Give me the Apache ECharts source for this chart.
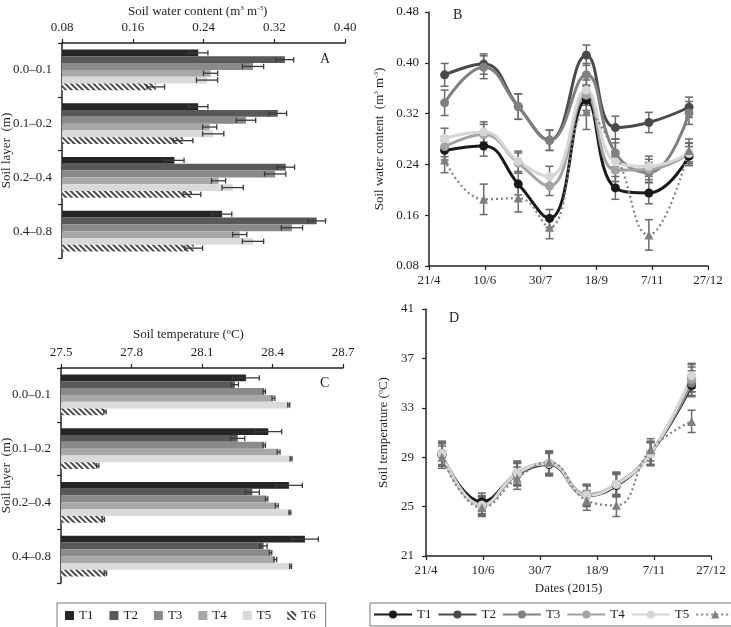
<!DOCTYPE html>
<html>
<head>
<meta charset="utf-8">
<script src="https://cdn.jsdelivr.net/npm/echarts@6/dist/echarts.min.js"></script>
<style>html,body{margin:0;padding:0;background:#fff}#c{width:731px;height:627px}</style>
</head>
<body>
<div id="c"></div>
<script>
// ---------- data ----------
const layers = ['0.0–0.1', '0.1–0.2', '0.2–0.4', '0.4–0.8'];
const treatments = ['T1', 'T2', 'T3', 'T4', 'T5', 'T6'];

// Panel A: soil water content by layer (m3 m-3)
const swcLayerT1 = [0.234, 0.234, 0.207, 0.261];
const swcLayerT2 = [0.332, 0.324, 0.333, 0.368];
const swcLayerT3 = [0.296, 0.288, 0.321, 0.340];
const swcLayerT4 = [0.248, 0.247, 0.257, 0.281];
const swcLayerT5 = [0.244, 0.251, 0.273, 0.296];
const swcLayerT6 = [0.186, 0.217, 0.227, 0.229];
const swcLayerErrT1 = [0.011, 0.011, 0.011, 0.011];
const swcLayerErrT2 = [0.010, 0.010, 0.010, 0.010];
const swcLayerErrT3 = [0.012, 0.011, 0.012, 0.012];
const swcLayerErrT4 = [0.008, 0.008, 0.008, 0.008];
const swcLayerErrT5 = [0.012, 0.012, 0.012, 0.012];
const swcLayerErrT6 = [0.010, 0.011, 0.010, 0.010];

// Panel C: soil temperature by layer (°C)
const stLayerT1 = [28.287, 28.382, 28.470, 28.538];
const stLayerT2 = [28.240, 28.252, 28.314, 28.362];
const stLayerT3 = [28.365, 28.365, 28.375, 28.392];
const stLayerT4 = [28.404, 28.426, 28.418, 28.412];
const stLayerT5 = [28.469, 28.479, 28.474, 28.477];
const stLayerT6 = [27.687, 27.656, 27.680, 27.689];
const stLayerErrT1 = [0.057, 0.057, 0.057, 0.057];
const stLayerErrT2 = [0.015, 0.030, 0.030, 0.015];
const stLayerErrT3 = [0.005, 0.005, 0.005, 0.005];
const stLayerErrT4 = [0.006, 0.006, 0.006, 0.006];
const stLayerErrT5 = [0.004, 0.004, 0.004, 0.004];
const stLayerErrT6 = [0.005, 0.005, 0.005, 0.005];

// Panels B and D: sampling dates
const sampleDates = ['2015-05-05', '2015-06-09', '2015-07-10', '2015-08-07', '2015-09-09', '2015-10-05', '2015-11-04', '2015-12-10'];
const dateTickLabels = ['21/4', '10/6', '30/7', '18/9', '7/11', '27/12'];

// Panel B: soil water content over time
const swcT1 = [0.262, 0.269, 0.209, 0.155, 0.341, 0.203, 0.195, 0.253];
const swcT2 = [0.381, 0.398, 0.331, 0.278, 0.412, 0.298, 0.306, 0.330];
const swcT3 = [0.337, 0.393, 0.331, 0.278, 0.381, 0.258, 0.227, 0.321];
const swcT4 = [0.268, 0.287, 0.242, 0.206, 0.349, 0.231, 0.232, 0.257];
const swcT5 = [0.281, 0.291, 0.245, 0.221, 0.357, 0.244, 0.237, 0.258];
const swcT6 = [0.247, 0.185, 0.187, 0.141, 0.323, 0.258, 0.129, 0.262];
const swcErrT1 = [0.015, 0.016, 0.017, 0.014, 0.016, 0.018, 0.017, 0.015];
const swcErrT2 = [0.018, 0.016, 0.020, 0.016, 0.016, 0.018, 0.016, 0.016];
const swcErrT3 = [0.020, 0.018, 0.020, 0.016, 0.018, 0.016, 0.016, 0.018];
const swcErrT4 = [0.016, 0.016, 0.016, 0.015, 0.016, 0.018, 0.016, 0.016];
const swcErrT5 = [0.016, 0.016, 0.016, 0.016, 0.016, 0.016, 0.016, 0.016];
const swcErrT6 = [0.020, 0.024, 0.022, 0.018, 0.028, 0.022, 0.024, 0.018];

// Panel D: soil temperature over time
const stT1 = [29.2, 25.4, 27.6, 28.4, 25.9, 26.7, 29.3, 34.8];
const stT2 = [29.3, 25.1, 27.7, 28.5, 25.9, 26.8, 29.3, 35.4];
const stT3 = [29.2, 25.1, 27.6, 28.5, 25.9, 26.8, 29.3, 35.0];
const stT4 = [29.3, 25.1, 27.7, 28.5, 26.0, 26.8, 29.3, 35.3];
const stT5 = [29.3, 25.1, 27.7, 28.5, 25.9, 26.8, 29.3, 35.6];
const stT6 = [29.0, 24.9, 27.3, 28.6, 25.5, 25.1, 29.6, 31.9];
const stErrT1 = [0.9, 0.7, 0.9, 0.9, 0.8, 0.9, 0.9, 0.9];
const stErrT2 = [1.0, 0.8, 1.0, 1.0, 0.9, 1.0, 1.0, 1.1];
const stErrT3 = [0.9, 0.7, 0.9, 0.9, 0.8, 0.9, 0.9, 1.0];
const stErrT4 = [0.9, 0.7, 0.9, 0.9, 0.8, 0.9, 0.9, 1.0];
const stErrT5 = [0.9, 0.7, 0.9, 0.9, 0.8, 0.9, 0.9, 1.0];
const stErrT6 = [0.9, 0.7, 0.9, 0.9, 0.8, 0.9, 0.9, 0.9];

// ---------- styling ----------
const FONT = 'Liberation Serif';
const TXT = '#231f20';
const barColors = ['#262626', '#595959', '#8a8a8a', '#a8a8a8', '#dadada', '#ffffff'];
const lineColors = ['#1a1a1a', '#4a4a4a', '#808080', '#a3a3a3', '#d6d6d6', '#808080'];
const BAR_CAT_GAP = 0.24;
const BAR_DIR = 1;

const swcLayer = [swcLayerT1, swcLayerT2, swcLayerT3, swcLayerT4, swcLayerT5, swcLayerT6];
const swcLayerErr = [swcLayerErrT1, swcLayerErrT2, swcLayerErrT3, swcLayerErrT4, swcLayerErrT5, swcLayerErrT6];
const stLayer = [stLayerT1, stLayerT2, stLayerT3, stLayerT4, stLayerT5, stLayerT6];
const stLayerErr = [stLayerErrT1, stLayerErrT2, stLayerErrT3, stLayerErrT4, stLayerErrT5, stLayerErrT6];
const swcTime = [swcT1, swcT2, swcT3, swcT4, swcT5, swcT6];
const swcTimeErr = [swcErrT1, swcErrT2, swcErrT3, swcErrT4, swcErrT5, swcErrT6];
const stTime = [stT1, stT2, stT3, stT4, stT5, stT6];
const stTimeErr = [stErrT1, stErrT2, stErrT3, stErrT4, stErrT5, stErrT6];

function dayOffset(s) {
  return Math.round((new Date(s + 'T00:00:00Z') - new Date('2015-04-21T00:00:00Z')) / 864e5);
}
const sampleDays = sampleDates.map(dayOffset);

const baseLabel = { color: TXT, fontFamily: FONT, fontSize: 13 };
const supRich = { s: { color: TXT, fontFamily: FONT, fontSize: 7, verticalAlign: 'top', lineHeight: 13 } };
const axLine = { show: true, lineStyle: { color: '#222', width: 1.5 } };
const axTick = { show: true, length: 4, lineStyle: { color: '#222', width: 1.2 } };

function hatch() {
  return { color: '#ffffff', decal: { symbol: 'rect', symbolSize: 1, color: '#4a4a4a', dashArrayX: [1, 0], dashArrayY: [1.2, 1.3], rotation: Math.PI / 4 } };
}

function barSeries(axisIdx, values, idx) {
  const style = idx === 5 ? hatch() : { color: barColors[idx] };
  return {
    type: 'bar', name: treatments[idx], xAxisIndex: axisIdx, yAxisIndex: axisIdx,
    data: values, barCategoryGap: (BAR_CAT_GAP * 100) + '%', barGap: '0%',
    itemStyle: style, z: 2
  };
}

function hErrSeries(axisIdx, values, errs, idx) {
  return {
    type: 'custom', name: 'err' + axisIdx + treatments[idx], xAxisIndex: axisIdx, yAxisIndex: axisIdx,
    data: values.map((v, k) => [v, k, errs[k]]), z: 5, silent: true,
    renderItem: function (params, api) {
      const v = api.value(0), c = api.value(1), e = api.value(2);
      const band = api.size([0, 1])[1];
      const groupH = band * (1 - BAR_CAT_GAP);
      const barH = groupH / 6;
      const y = api.coord([v, c])[1] + BAR_DIR * (-groupH / 2 + barH * (idx + 0.5));
      const xl = api.coord([v - e, c])[0], xr = api.coord([v + e, c])[0];
      const h = barH * 0.4;
      const st = { stroke: '#3a3a3a', lineWidth: 1.3 };
      return { type: 'group', children: [
        { type: 'line', shape: { x1: xl, y1: y, x2: xr, y2: y }, style: st },
        { type: 'line', shape: { x1: xl, y1: y - h, x2: xl, y2: y + h }, style: st },
        { type: 'line', shape: { x1: xr, y1: y - h, x2: xr, y2: y + h }, style: st }
      ] };
    }
  };
}

function lineSeries(axisIdx, values, idx) {
  const dotted = idx === 5;
  return {
    type: 'line', name: treatments[idx] + ' ', xAxisIndex: axisIdx, yAxisIndex: axisIdx,
    data: sampleDays.map((d, k) => [d, values[k]]),
    smooth: 0.45,
    symbol: dotted ? 'triangle' : 'circle', symbolSize: 9,
    lineStyle: { color: lineColors[idx], width: dotted ? 2.2 : 3, type: dotted ? [2, 3] : 'solid' },
    itemStyle: { color: lineColors[idx] },
    z: 3
  };
}

function vErrSeries(axisIdx, values, errs, idx) {
  return {
    type: 'custom', name: 'verr' + axisIdx + treatments[idx], xAxisIndex: axisIdx, yAxisIndex: axisIdx,
    data: sampleDays.map((d, k) => [d, values[k], errs[k]]), z: 2, silent: true,
    renderItem: function (params, api) {
      const x = api.value(0), v = api.value(1), e = api.value(2);
      const a = api.coord([x, v + e]), b = api.coord([x, v - e]);
      const w = 4;
      const st = { stroke: '#6a6a6a', lineWidth: 1.5 };
      return { type: 'group', children: [
        { type: 'line', shape: { x1: a[0], y1: a[1], x2: b[0], y2: b[1] }, style: st },
        { type: 'line', shape: { x1: a[0] - w, y1: a[1], x2: a[0] + w, y2: a[1] }, style: st },
        { type: 'line', shape: { x1: b[0] - w, y1: b[1], x2: b[0] + w, y2: b[1] }, style: st }
      ] };
    }
  };
}

const series = [];
treatments.forEach((t, i) => series.push(barSeries(0, swcLayer[i], i)));
treatments.forEach((t, i) => series.push(barSeries(1, stLayer[i], i)));
treatments.forEach((t, i) => series.push(hErrSeries(0, swcLayer[i], swcLayerErr[i], i)));
treatments.forEach((t, i) => series.push(hErrSeries(1, stLayer[i], stLayerErr[i], i)));
treatments.forEach((t, i) => series.push(vErrSeries(2, swcTime[i], swcTimeErr[i], i)));
treatments.forEach((t, i) => series.push(vErrSeries(3, stTime[i], stTimeErr[i], i)));
treatments.forEach((t, i) => series.push(lineSeries(2, swcTime[i], i)));
treatments.forEach((t, i) => series.push(lineSeries(3, stTime[i], i)));

function catAxis(gridIndex, gap) {
  return {
    type: 'category', gridIndex: gridIndex, data: layers, inverse: true,
    axisLine: axLine, axisTick: axTick,
    axisLabel: Object.assign({ margin: 10 }, baseLabel),
    name: 'Soil layer  (m)', nameLocation: 'middle', nameGap: gap, nameRotate: 90,
    nameMoveOverlap: false,
    nameTextStyle: baseLabel
  };
}

const option = {
  animation: false,
  backgroundColor: '#ffffff',
  textStyle: { fontFamily: FONT },
  grid: [
    { left: 62, top: 43, width: 283, height: 215, outerBoundsMode: 'none', containLabel: false },
    { left: 61, top: 368, width: 282, height: 215, outerBoundsMode: 'none', containLabel: false },
    { left: 429, top: 12, width: 279, height: 254, outerBoundsMode: 'none', containLabel: false },
    { left: 426, top: 309, width: 285, height: 247, outerBoundsMode: 'none', containLabel: false }
  ],
  xAxis: [
    { type: 'value', gridIndex: 0, position: 'top', min: 0.08, max: 0.40, interval: 0.08,
      axisLine: axLine, axisTick: axTick, splitLine: { show: false },
      axisLabel: Object.assign({ margin: 9, formatter: v => v.toFixed(2) }, baseLabel) },
    { type: 'value', gridIndex: 1, position: 'top', min: 27.5, max: 28.7, interval: 0.3,
      axisLine: axLine, axisTick: axTick, splitLine: { show: false },
      axisLabel: Object.assign({ margin: 9, formatter: v => v.toFixed(1) }, baseLabel) },
    { type: 'value', gridIndex: 2, min: 0, max: 250, interval: 50,
      axisLine: axLine, axisTick: axTick, splitLine: { show: false },
      axisLabel: Object.assign({ margin: 8, formatter: v => dateTickLabels[Math.round(v / 50)] }, baseLabel) },
    { type: 'value', gridIndex: 3, min: 0, max: 250, interval: 50,
      axisLine: axLine, axisTick: axTick, splitLine: { show: false },
      axisLabel: Object.assign({ margin: 8, formatter: v => dateTickLabels[Math.round(v / 50)] }, baseLabel),
      name: 'Dates (2015)', nameLocation: 'middle', nameGap: 26, nameTextStyle: baseLabel }
  ],
  yAxis: [
    catAxis(0, 49),
    catAxis(1, 48),
    { type: 'value', gridIndex: 2, min: 0.08, max: 0.48, interval: 0.08,
      axisLine: axLine, axisTick: axTick, splitLine: { show: false },
      axisLabel: Object.assign({ margin: 10, formatter: v => v.toFixed(2) }, baseLabel),
      name: 'Soil water content  (m{s|3} m{s|-3})', nameLocation: 'middle', nameGap: 43, nameRotate: 90,
      nameTextStyle: Object.assign({ rich: supRich }, baseLabel) },
    { type: 'value', gridIndex: 3, min: 21, max: 41, interval: 4,
      axisLine: axLine, axisTick: axTick, splitLine: { show: false },
      axisLabel: Object.assign({ margin: 12 }, baseLabel),
      name: 'Soil temperature (ºC)', nameLocation: 'middle', nameGap: 36, nameRotate: 90,
      nameTextStyle: baseLabel }
  ],
  legend: [
    { data: treatments, left: 57, top: 603, itemWidth: 9, itemHeight: 9, itemGap: 16,
      icon: 'rect', borderColor: '#777', borderWidth: 1, padding: [6, 10, 6, 8],
      textStyle: baseLabel },
    { data: treatments.map(t => t + ' '), formatter: n => n.trim(), left: 370, top: 603, width: 420,
      itemWidth: 38, itemHeight: 10, itemGap: 6, borderColor: '#777', borderWidth: 1,
      padding: [5, 4, 5, 3], textStyle: baseLabel }
  ],
  graphic: [
    { type: 'text', left: 128, top: 5, style: { text: 'Soil water content (m{s|3} m{s|-3})', fill: TXT, font: '13px "Liberation Serif"', rich: supRich } },
    { type: 'text', left: 133, top: 328, style: { text: 'Soil temperature (ºC)', fill: TXT, font: '13px "Liberation Serif"' } },
    { type: 'text', left: 320, top: 52, style: { text: 'A', fill: TXT, font: '14px "Liberation Serif"' } },
    { type: 'text', left: 320, top: 376, style: { text: 'C', fill: TXT, font: '14px "Liberation Serif"' } },
    { type: 'text', left: 453, top: 8, style: { text: 'B', fill: TXT, font: '14px "Liberation Serif"' } },
    { type: 'text', left: 449, top: 311, style: { text: 'D', fill: TXT, font: '14px "Liberation Serif"' } }
  ],
  series: series
};

const chart = echarts.init(document.getElementById('c'), null, { renderer: 'canvas' });
chart.setOption(option);
</script>
</body>
</html>
